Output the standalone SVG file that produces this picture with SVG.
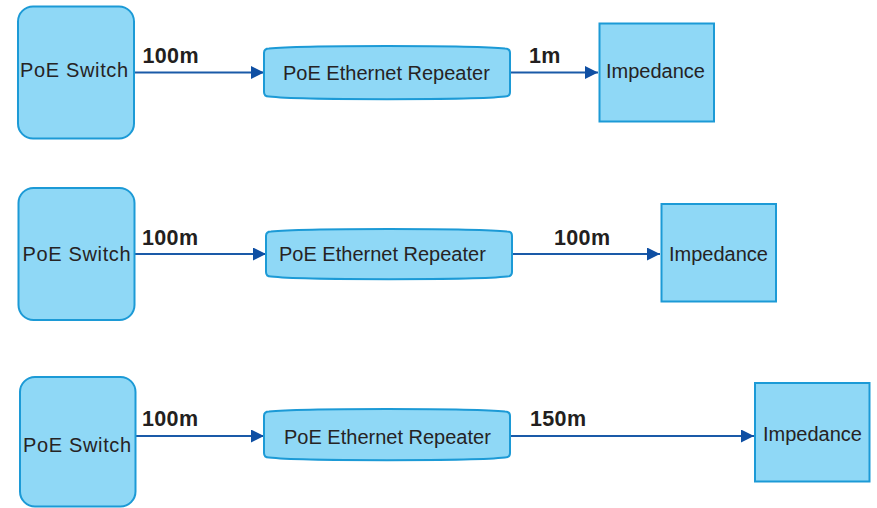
<svg xmlns="http://www.w3.org/2000/svg" width="877" height="508" viewBox="0 0 877 508">
<style>
.box{fill:#8fd8f6;stroke:#1c9ad6;stroke-width:2}
.t{font-family:"Liberation Sans",Arial,sans-serif;font-size:20px;fill:#262324}
.sw{letter-spacing:0.65px}
.lbl{font-family:"Liberation Sans",Arial,sans-serif;font-size:21.5px;font-weight:bold;fill:#231f20;letter-spacing:0.35px}
.con{stroke:#1a5aa8;stroke-width:2.2;fill:none;marker-end:url(#ah)}
</style>
<defs>
<marker id="ah" viewBox="0 0 13 13" refX="13" refY="6.5" markerWidth="13" markerHeight="13" markerUnits="userSpaceOnUse" orient="auto">
<path d="M0,0 L13,6.5 L0,13 z" fill="#0f4fa3"/>
</marker>
</defs>
<rect width="877" height="508" fill="#ffffff"/>
<g id="connectors">
<line class="con" x1="134" y1="72.5" x2="264" y2="72.5"/>
<line class="con" x1="510" y1="72.5" x2="598" y2="72.5"/>
<line class="con" x1="135" y1="254" x2="266" y2="254"/>
<line class="con" x1="512" y1="254" x2="660" y2="254"/>
<line class="con" x1="135" y1="436" x2="264" y2="436"/>
<line class="con" x1="510" y1="436" x2="754" y2="436"/>
<text class="lbl" x="142.5" y="62.5">100m</text>
<text class="lbl" x="529" y="62.5">1m</text>
<text class="lbl" x="142" y="244.5">100m</text>
<text class="lbl" x="554" y="244.5">100m</text>
<text class="lbl" x="142" y="425.5">100m</text>
<text class="lbl" x="530" y="425.5">150m</text>
</g>
<g id="switch1">
<rect class="box" x="18" y="6.5" width="116" height="132" rx="15"/>
<text class="t sw" x="20" y="77">PoE Switch</text>
</g>
<g id="repeater1">
<path class="box" d="M264,53 Q264,48.5 269,48.5 C300,45 474,45 505,48.5 Q510,48.5 510,53 L510,92 Q510,96.5 505,96.5 C474,100 300,100 269,96.5 Q264,96.5 264,92 Z"/>
<text class="t" x="283" y="80">PoE Ethernet Repeater</text>
</g>
<g id="impedance1">
<rect class="box" x="599.5" y="23.5" width="114.5" height="98"/>
<text class="t" x="606" y="78">Impedance</text>
</g>
<g id="switch2">
<rect class="box" x="18.5" y="188" width="116" height="132" rx="15"/>
<text class="t sw" x="22.5" y="261">PoE Switch</text>
</g>
<g id="repeater2">
<path class="box" d="M266,236 Q266,231.5 271,231.5 C302,228 476,228 507,231.5 Q512,231.5 512,236 L512,272 Q512,276.5 507,276.5 C476,280 302,280 271,276.5 Q266,276.5 266,272 Z"/>
<text class="t" x="279" y="261">PoE Ethernet Repeater</text>
</g>
<g id="impedance2">
<rect class="box" x="661.5" y="204" width="114.5" height="97.5"/>
<text class="t" x="669" y="261">Impedance</text>
</g>
<g id="switch3">
<rect class="box" x="20" y="377" width="115.5" height="129.5" rx="15"/>
<text class="t sw" x="23" y="451.5">PoE Switch</text>
</g>
<g id="repeater3">
<path class="box" d="M264,416 Q264,411.5 269,411.5 C300,408 474,408 505,411.5 Q510,411.5 510,416 L510,453 Q510,457.5 505,457.5 C474,461 300,461 269,457.5 Q264,457.5 264,453 Z"/>
<text class="t" x="284" y="444">PoE Ethernet Repeater</text>
</g>
<g id="impedance3">
<rect class="box" x="755" y="383" width="114.5" height="98.5"/>
<text class="t" x="763" y="441">Impedance</text>
</g>
</svg>
